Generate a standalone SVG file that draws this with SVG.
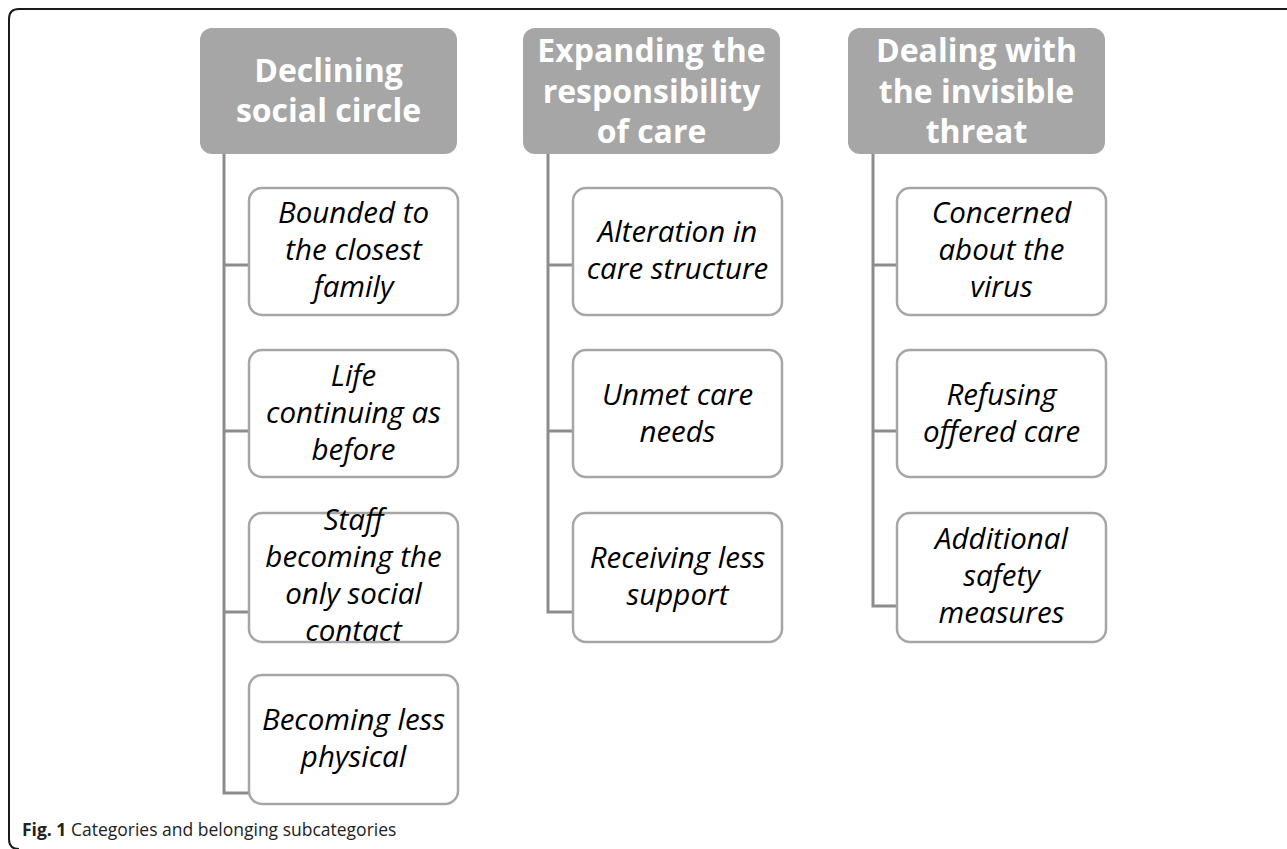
<svg xmlns="http://www.w3.org/2000/svg" width="1287" height="849" viewBox="0 0 1287 849">
  <style>
    .frame { fill: none; stroke: #1a1a1a; stroke-width: 2; }
    .cat { fill: #a6a6a6; }
    .cat-text { font-family: "Open Sans", "DejaVu Sans", sans-serif; font-weight: bold; font-size: 32px; fill: #ffffff; text-anchor: middle; }
    .sub { fill: #ffffff; stroke: #a6a6a6; stroke-width: 2.5; }
    .sub-text { font-family: "Open Sans", "DejaVu Sans", sans-serif; font-style: italic; font-size: 29.5px; fill: #000000; text-anchor: middle; }
    .link { fill: none; stroke: #8c8c8c; stroke-width: 3; }
    .caption { font-family: "Open Sans", "DejaVu Sans", sans-serif; font-size: 17.5px; fill: #222222; }
  </style>

  <rect width="1287" height="849" fill="#ffffff"/>
  <path class="frame" d="M1287,9 H19 Q9,9 9,19 V839 Q9,849 19,849"/>

  <!-- connectors from each category down to its subcategories -->
  <g id="connectors">
    <path class="link" d="M224,154 V793 H249 M224,265 H249 M224,431 H249 M224,612 H249"/>
    <path class="link" d="M548,154 V612 H573 M548,265 H573 M548,431 H573"/>
    <path class="link" d="M873,154 V606 H897 M873,265 H897 M873,431 H897"/>
  </g>

  <!-- column 1 -->
  <g id="cat-declining">
    <rect class="cat" x="200" y="28" width="257" height="126" rx="12"/>
    <text class="cat-text"><tspan x="328.5" y="82">Declining</tspan><tspan x="328.5" y="122">social circle</tspan></text>
  </g>
  <g id="sub-bounded">
    <rect class="sub" x="249" y="188" width="209" height="127" rx="13"/>
    <text class="sub-text"><tspan x="353.5" y="223">Bounded to</tspan><tspan x="353.5" y="260">the closest</tspan><tspan x="353.5" y="297">family</tspan></text>
  </g>
  <g id="sub-life">
    <rect class="sub" x="249" y="350" width="209" height="127" rx="13"/>
    <text class="sub-text"><tspan x="353.5" y="386">Life</tspan><tspan x="353.5" y="423">continuing as</tspan><tspan x="353.5" y="460">before</tspan></text>
  </g>
  <g id="sub-staff">
    <rect class="sub" x="249" y="513" width="209" height="129" rx="13"/>
    <text class="sub-text"><tspan x="353.5" y="530">Staff</tspan><tspan x="353.5" y="567">becoming the</tspan><tspan x="353.5" y="604">only social</tspan><tspan x="353.5" y="641">contact</tspan></text>
  </g>
  <g id="sub-physical">
    <rect class="sub" x="249" y="675" width="209" height="129" rx="13"/>
    <text class="sub-text"><tspan x="353.5" y="730">Becoming less</tspan><tspan x="353.5" y="767">physical</tspan></text>
  </g>

  <!-- column 2 -->
  <g id="cat-expanding">
    <rect class="cat" x="523" y="28" width="257" height="126" rx="12"/>
    <text class="cat-text"><tspan x="651.5" y="62">Expanding the</tspan><tspan x="651.5" y="103">responsibility</tspan><tspan x="651.5" y="143">of care</tspan></text>
  </g>
  <g id="sub-alteration">
    <rect class="sub" x="573" y="188" width="209" height="127" rx="13"/>
    <text class="sub-text"><tspan x="677.5" y="242">Alteration in</tspan><tspan x="677.5" y="279">care structure</tspan></text>
  </g>
  <g id="sub-unmet">
    <rect class="sub" x="573" y="350" width="209" height="127" rx="13"/>
    <text class="sub-text"><tspan x="677.5" y="405">Unmet care</tspan><tspan x="677.5" y="442">needs</tspan></text>
  </g>
  <g id="sub-receiving">
    <rect class="sub" x="573" y="513" width="209" height="129" rx="13"/>
    <text class="sub-text"><tspan x="677.5" y="568">Receiving less</tspan><tspan x="677.5" y="605">support</tspan></text>
  </g>

  <!-- column 3 -->
  <g id="cat-dealing">
    <rect class="cat" x="848" y="28" width="257" height="126" rx="12"/>
    <text class="cat-text"><tspan x="976.5" y="62">Dealing with</tspan><tspan x="976.5" y="103">the invisible</tspan><tspan x="976.5" y="143">threat</tspan></text>
  </g>
  <g id="sub-concerned">
    <rect class="sub" x="897" y="188" width="209" height="127" rx="13"/>
    <text class="sub-text"><tspan x="1001.5" y="223">Concerned</tspan><tspan x="1001.5" y="260">about the</tspan><tspan x="1001.5" y="297">virus</tspan></text>
  </g>
  <g id="sub-refusing">
    <rect class="sub" x="897" y="350" width="209" height="127" rx="13"/>
    <text class="sub-text"><tspan x="1001.5" y="405">Refusing</tspan><tspan x="1001.5" y="442">offered care</tspan></text>
  </g>
  <g id="sub-safety">
    <rect class="sub" x="897" y="513" width="209" height="129" rx="13"/>
    <text class="sub-text"><tspan x="1001.5" y="549">Additional</tspan><tspan x="1001.5" y="586">safety</tspan><tspan x="1001.5" y="623">measures</tspan></text>
  </g>

  <text class="caption" x="22" y="836"><tspan font-weight="bold">Fig. 1</tspan> Categories and belonging subcategories</text>
</svg>
